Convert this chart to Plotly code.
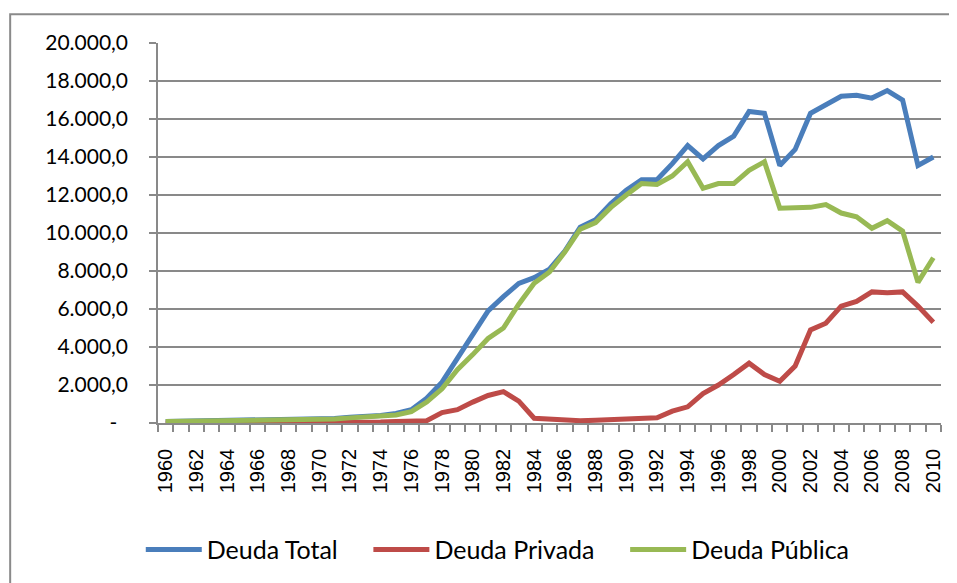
import plotly.graph_objects as go

years = list(range(1960, 2011))

deuda_total = [80, 90, 100, 105, 110, 120, 135, 145, 165, 185,
               210, 240, 300, 340, 390, 500, 700, 1300, 2150, 3400,
               4650, 5900, 6650, 7350, 7650, 8100, 9050, 10300, 10700, 11550,
               12250, 12800, 12800, 13650, 14600, 13900, 14600, 15100, 16400, 16300,
               13550, 14400, 16300, 16750, 17200, 17250, 17100, 17500, 17000, 13550,
               14000]

deuda_privada = [5, 5, 5, 5, 5, 10, 10, 10, 15, 15,
                 20, 25, 30, 40, 50, 80, 100, 120, 550, 700,
                 1100, 1450, 1650, 1150, 250, 200, 130, 120, 140, 170,
                 200, 200, 270, 620, 850, 1550, 2000, 2550, 3150, 2550,
                 2200, 3000, 4900, 5250, 6150, 6400, 6900, 6850, 6900, 6150,
                 5300]

deuda_publica = [75, 85, 95, 100, 105, 110, 125, 135, 150, 170,
                 190, 215, 270, 300, 340, 420, 600, 1100, 1800, 2800,
                 3600, 4450, 5000, 6250, 7350, 7950, 9000, 10200, 10550, 11350,
                 12000, 12600, 12550, 13000, 13750, 12350, 12600, 12600, 13300, 13750,
                 11300, 11350, 11350, 11500, 11050, 10850, 10250, 10650, 10100, 7400,
                 8700]

series_names = ["Deuda Total", "Deuda Privada", "Deuda Pública"]
series_colors = ["#4A7EBB", "#BE4B48", "#98B954"]

y_tick_vals = list(range(0, 20001, 2000))
y_tick_text = ["-\u00a0\u00a0"] + [f"{v:,}".replace(",", ".") + ",0" for v in y_tick_vals[1:]]
x_tick_vals = list(range(1960, 2011, 2))
x_tick_text = [str(y) for y in x_tick_vals]

pad = "\u00a0" * 4
fig = go.Figure()
for i, (name, vals, col) in enumerate(zip(series_names, [deuda_total, deuda_privada, deuda_publica], series_colors)):
    label = name + (pad if i < 2 else "")
    fig.add_trace(go.Scatter(x=years, y=vals, mode="lines", name=label,
                             line=dict(color=col, width=5)))

grid = "#898989"
fig.update_layout(
    width=949, height=575,
    margin=dict(l=150, r=16, t=35, b=159),
    paper_bgcolor="white", plot_bgcolor="white",
    font=dict(family="Lato", color="black"),
    showlegend=True,
    legend=dict(orientation="h", x=-0.022, xanchor="left", y=-0.33, yanchor="middle",
                font=dict(family="Lato", size=25, color="black"),
                itemwidth=56, bgcolor="rgba(0,0,0,0)"),
    shapes=[dict(type="rect", xref="paper", yref="paper",
                 x0=-0.1888, x1=1.1, y0=-0.6, y1=1.0756,
                 line=dict(color="#8a8a8a", width=2), fillcolor="rgba(0,0,0,0)", layer="below")],
)

fig.update_xaxes(
    range=[1959.5, 2010.5],
    tickmode="array", tickvals=x_tick_vals, ticktext=x_tick_text,
    tickangle=-90, tickfont=dict(family="Liberation Sans", size=20, color="black"),
    ticks="outside", ticklen=7, tickcolor="rgba(0,0,0,0)",
    ticklabelstandoff=9,
    minor=dict(tick0=1959.5, dtick=1, ticks="outside", ticklen=7, tickcolor=grid, tickwidth=1.5, showgrid=False),
    showgrid=False, zeroline=False,
    showline=True, linecolor=grid, linewidth=1.5,
)
fig.update_yaxes(
    range=[0, 20000],
    tickmode="array", tickvals=y_tick_vals, ticktext=y_tick_text,
    tickfont=dict(family="Lato", size=21, color="black"),
    ticks="outside", ticklen=7, tickcolor=grid, tickwidth=1.5,
    ticklabelstandoff=17,
    showgrid=True, gridcolor=grid, gridwidth=1.5,
    zeroline=False,
    showline=True, linecolor=grid, linewidth=1.5,
)

fig.write_html("out.html")
